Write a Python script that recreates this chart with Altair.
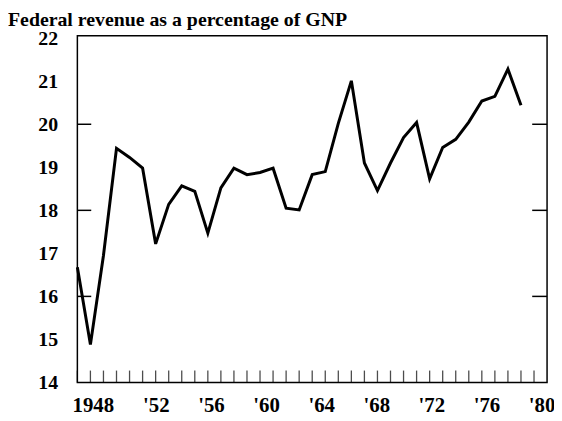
import altair as alt
import pandas as pd

# ---- data ----
years = list(range(1948, 1983))
revenue = [16.68, 14.88, 16.95, 19.44, 19.23, 18.98, 17.22, 18.14, 18.57, 18.44,
           17.47, 18.52, 18.98, 18.83, 18.88, 18.98, 18.05, 18.01, 18.83, 18.90,
           20.02, 21.01, 19.10, 18.46, 19.10, 19.69, 20.04, 18.73, 19.46, 19.65,
           20.05, 20.54, 20.65, 21.28, 20.44]

tick_years = list(range(1948, 1984))          # yearly minor ticks
side_ticks = [16, 18, 20]                      # inward ticks on both sides
y_labels = [14, 15, 16, 17, 18, 19, 20, 21, 22]
label_years = [1948, 1952, 1956, 1960, 1964, 1968, 1972, 1976, 1980]
label_texts = ["1948", "'52", "'56", "'60", "'64", "'68", "'72", "'76", "'80"]

W, H = 474, 350
X_DOMAIN = [1948, 1984]
Y_DOMAIN = [14, 22.06]
LABEL_DOMAIN = [1946.3, 1980.4]
FONT = "Liberation Serif"

line_df = pd.DataFrame({"year": years, "revenue": revenue})
tick_df = pd.DataFrame({"t": tick_years})
side_df = pd.DataFrame({"v": side_ticks})
lab_df = pd.DataFrame({"lab": label_years})

xs = alt.Scale(domain=X_DOMAIN, nice=False, zero=False)
ys = alt.Scale(domain=Y_DOMAIN, nice=False, zero=False)

expr = "''"
for v, t in reversed(list(zip(label_years, label_texts))):
    expr = f"datum.value == {v} ? \"{t}\" : ({expr})"

line = alt.Chart(line_df).mark_line(color="black", strokeWidth=3, strokeJoin="miter").encode(
    x=alt.X("year:Q", scale=xs, axis=None),
    y=alt.Y("revenue:Q", scale=ys,
            axis=alt.Axis(values=y_labels, format="d", ticks=False, domain=False, grid=False,
                          title=None, labelFont=FONT, labelFontWeight="bold", labelFontSize=20,
                          labelColor="black", labelPadding=20)),
)

bottom_ticks = alt.Chart(tick_df).mark_tick(color="black", thickness=1.3, size=12,
                                            orient="vertical").encode(
    x=alt.X("t:Q", scale=xs, axis=None),
    y=alt.value(H - 6),
)

left_ticks = alt.Chart(side_df).mark_rule(color="black", strokeWidth=1.5).encode(
    y=alt.Y("v:Q", scale=ys, axis=None),
    x=alt.value(0),
    x2=alt.value(14),
)

right_ticks = alt.Chart(side_df).mark_rule(color="black", strokeWidth=1.5).encode(
    y=alt.Y("v:Q", scale=ys, axis=None),
    x=alt.value(W - 15),
    x2=alt.value(W),
)

labels = alt.Chart(lab_df).mark_point(opacity=0).encode(
    x=alt.X("lab:Q", scale=alt.Scale(domain=LABEL_DOMAIN, nice=False, zero=False),
            axis=alt.Axis(values=label_years, format="d", labelExpr=expr, ticks=False,
                          domain=False, grid=False, title=None, labelFont=FONT,
                          labelFontWeight="bold", labelFontSize=21, labelColor="black",
                          labelPadding=12, labelFlush=False, labelOverlap=False,
                          labelOffset={"condition": {"test": "datum.value == 1948", "value": -8},
                                       "value": 0})),
    y=alt.Y("lab:Q", axis=None),
)

chart = alt.layer(line, bottom_ticks, left_ticks, right_ticks, labels).resolve_scale(
    x="independent", y="independent"
).properties(
    width=W, height=H,
    autosize=alt.AutoSizeParams(type="none"),
    padding={"left": 70, "top": 26, "right": 7, "bottom": 36},
    title=alt.TitleParams("Federal revenue as a percentage of GNP", anchor="start",
                          frame="group", dx=-70, font=FONT, fontWeight="bold", fontSize=20,
                          color="black", offset=-2),
).configure_view(stroke="black", strokeWidth=1.5)

chart.save("out.html", embed_options={"renderer": "svg", "actions": False})
